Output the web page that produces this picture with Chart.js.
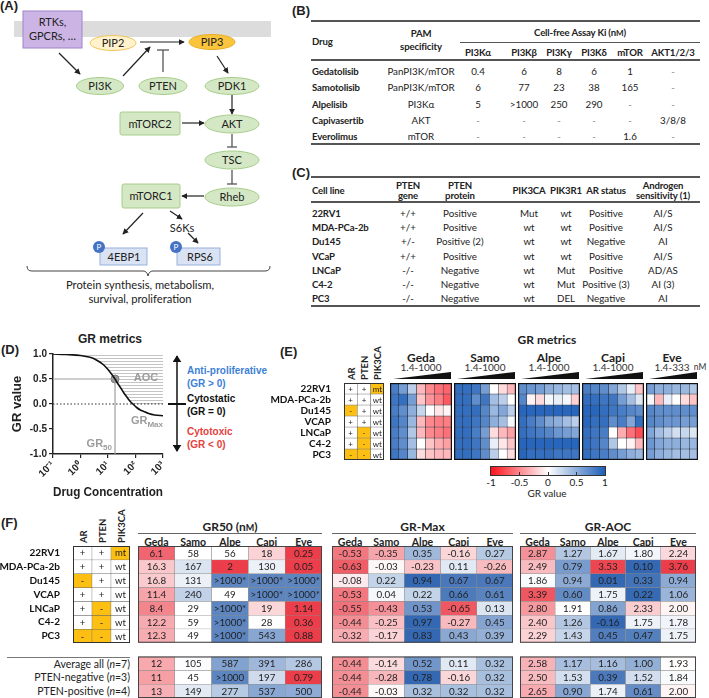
<!DOCTYPE html>
<html>
<head>
<meta charset="utf-8">
<title>PI3K/AKT/mTOR inhibitors in prostate cancer cell lines</title>
<script src="https://cdn.jsdelivr.net/npm/chart.js@4.4.1/dist/chart.umd.min.js"></script>
<style>
  body { margin: 0; background: #fff; }
  #fig { position: relative; width: 709px; height: 698px; overflow: hidden; font-family: Lato, "Liberation Sans", sans-serif; color: #222; }
  #fig canvas { position: absolute; }
  .t { position: absolute; white-space: nowrap; line-height: 1; }
  .hl { position: absolute; }
  #deco { position: absolute; left: 0; top: 0; }
</style>
</head>
<body>
<div id="fig">
<svg id="deco" width="709" height="698" font-family="Lato, sans-serif" font-size="11" fill="#222">
  <defs>
    <marker id="ah" viewBox="0 0 8 8" refX="7" refY="4" markerWidth="6" markerHeight="6" markerUnits="userSpaceOnUse" orient="auto"><path d="M0,0 L8,4 L0,8 z" fill="#222"/></marker>
    <marker id="ah2" viewBox="0 0 8 10" refX="7" refY="5" markerWidth="7" markerHeight="9" markerUnits="userSpaceOnUse" orient="auto-start-reverse"><path d="M0,0 L8,5 L0,10 z" fill="#111"/></marker>
  </defs>
  <!-- (A) pathway -->
  <rect x="14" y="21" width="257" height="16" fill="#dcdcdc"/>
  <rect x="23" y="11" width="59" height="37" fill="#ccb5e5" stroke="#a083c8"/>
  <text x="52.5" y="26" text-anchor="middle">RTKs,</text>
  <text x="52.5" y="40" text-anchor="middle">GPCRs, …</text>
  <ellipse cx="113" cy="43" rx="23" ry="7.5" fill="#fff2cc" stroke="#efc65a"/>
  <text x="113" y="47" text-anchor="middle">PIP2</text>
  <ellipse cx="212" cy="42" rx="23" ry="7.5" fill="#fbc43d" stroke="#e8ae25"/>
  <text x="212" y="46" text-anchor="middle">PIP3</text>
  <g stroke="#222" stroke-width="1.2" fill="none">
    <line x1="140" y1="42" x2="184" y2="42" marker-end="url(#ah)"/>
    <line x1="59" y1="53" x2="80" y2="74" marker-end="url(#ah)"/>
    <line x1="123" y1="76" x2="150" y2="47" marker-end="url(#ah)"/>
    <line x1="217" y1="56" x2="228" y2="73" marker-end="url(#ah)"/>
    <line x1="232" y1="95" x2="232" y2="114" marker-end="url(#ah)"/>
    <line x1="182" y1="123" x2="204" y2="123" marker-end="url(#ah)"/>
    <line x1="204" y1="196" x2="182" y2="196" marker-end="url(#ah)"/>
    <line x1="143" y1="213" x2="123" y2="234" marker-end="url(#ah)"/>
    <line x1="170" y1="211" x2="182" y2="219" marker-end="url(#ah)"/>
    <line x1="188" y1="233" x2="198" y2="243" marker-end="url(#ah)"/>
  </g>
  <g stroke="#555" stroke-width="1.3">
    <line x1="163" y1="72" x2="163" y2="50"/><line x1="157" y1="50" x2="169" y2="50"/>
    <line x1="232" y1="134" x2="232" y2="147"/><line x1="227" y1="147" x2="237" y2="147"/>
    <line x1="232" y1="170" x2="232" y2="184"/><line x1="227" y1="184" x2="237" y2="184"/>
  </g>
  <g fill="#d5e8c5" stroke="#a6cd8a">
    <ellipse cx="100" cy="86" rx="23.5" ry="8.5"/>
    <ellipse cx="163" cy="86" rx="24" ry="8.5"/>
    <ellipse cx="232" cy="86" rx="27" ry="8.5"/>
    <ellipse cx="232" cy="124" rx="27" ry="9"/>
    <ellipse cx="232" cy="160" rx="27" ry="9"/>
    <ellipse cx="232" cy="197" rx="27" ry="9"/>
    <rect x="120" y="112" width="60" height="23" rx="2"/>
    <rect x="122" y="184" width="58" height="24" rx="2"/>
  </g>
  <g text-anchor="middle">
    <text x="100" y="90">PI3K</text><text x="163" y="90">PTEN</text><text x="232" y="90">PDK1</text>
    <text x="150" y="127.5">mTORC2</text><text x="232" y="128">AKT</text><text x="232" y="164">TSC</text>
    <text x="151" y="200">mTORC1</text><text x="232" y="201">Rheb</text>
    <text x="182" y="232">S6Ks</text>
  </g>
  <rect x="100" y="248" width="47" height="17" fill="#dae3f3" stroke="#98b0dc"/>
  <rect x="177" y="248" width="43" height="17" fill="#dae3f3" stroke="#98b0dc"/>
  <text x="124" y="260.5" text-anchor="middle">4EBP1</text>
  <text x="200" y="260.5" text-anchor="middle">RPS6</text>
  <circle cx="99" cy="247" r="6" fill="#4472c4"/><text x="99" y="250" text-anchor="middle" font-size="8" fill="#fff">P</text>
  <circle cx="176" cy="247" r="6" fill="#4472c4"/><text x="176" y="250" text-anchor="middle" font-size="8" fill="#fff">P</text>
  <path d="M27,266 Q27,271 32,271 L143,271 Q147,271 148,276 Q149,271 153,271 L265,271 Q270,271 270,266" fill="none" stroke="#444" stroke-width="1"/>
  <text x="140" y="289" text-anchor="middle" font-size="11.2">Protein synthesis, metabolism,</text>
  <text x="140" y="303" text-anchor="middle" font-size="11.2">survival, proliferation</text>
  <!-- (D) right-hand scale -->
  <line x1="177" y1="356" x2="177" y2="451" stroke="#111" stroke-width="1.5" marker-start="url(#ah2)" marker-end="url(#ah2)"/>
  <line x1="168" y1="404" x2="186" y2="404" stroke="#111" stroke-width="2"/>
  <!-- (E) dose wedges -->
  <g fill="#111">
    <polygon points="393,379 451,379 451,372"/>
    <polygon points="457,379 515,379 515,372"/>
    <polygon points="521,379 579,379 579,372"/>
    <polygon points="585,379 643,379 643,372"/>
    <polygon points="649,379 697,379 697,372"/>
  </g>
</svg>
</div>
<script>
// ---------- (B) drug table ----------
const drugNames = ["Gedatolisib", "Samotolisib", "Alpelisib", "Capivasertib", "Everolimus"];
const pamSpec = ["PanPI3K/mTOR", "PanPI3K/mTOR", "PI3Kα", "AKT", "mTOR"];
const kiTargets = ["PI3Kα", "PI3Kβ", "PI3Kγ", "PI3Kδ", "mTOR", "AKT1/2/3"];
const kiValues = [
  ["0.4", "6", "8", "6", "1", "-"],
  ["6", "77", "23", "38", "165", "-"],
  ["5", ">1000", "250", "290", "-", "-"],
  ["-", "-", "-", "-", "-", "3/8/8"],
  ["-", "-", "-", "-", "1.6", "-"]
];

// ---------- (C) cell line table ----------
const tableCLines = ["22RV1", "MDA-PCa-2b", "Du145", "VCaP", "LNCaP", "C4-2", "PC3"];
const ptenGene = ["+/+", "+/+", "+/-", "+/+", "-/-", "-/-", "-/-"];
const ptenProtein = ["Positive", "Positive", "Positive (2)", "Positive", "Negative", "Negative", "Negative"];
const pik3caMut = ["Mut", "wt", "wt", "wt", "wt", "wt", "wt"];
const pik3r1Mut = ["wt", "wt", "wt", "wt", "Mut", "Mut", "DEL"];
const arText = ["Positive", "Positive", "Negative", "Positive", "Positive", "Positive (3)", "Negative"];
const androgenSens = ["AI/S", "AI/S", "AI", "AI/S", "AD/AS", "AI (3)", "AI"];

// ---------- (D) sketch of a GR curve ----------
const concNM = [0.1, 0.3, 1, 2, 3, 5, 7, 10, 13, 18, 22, 30, 40, 50, 65, 80, 110, 150, 200, 300, 500, 1000];
const grCurve = [1.00, 0.99, 0.97, 0.94, 0.91, 0.84, 0.78, 0.69, 0.61, 0.50, 0.42, 0.31, 0.20, 0.13, 0.05, 0.00, -0.07, -0.12, -0.15, -0.19, -0.22, -0.235];
const gr50Point = { x: 18, y: 0.5 };
const xTickVals = [0.1, 1, 10, 100, 1000];
const xTickLabels = ["10⁻¹", "10⁰", "10¹", "10²", "10³"];

// ---------- (E) / (F) cell lines and genotypes ----------
const cellLines = ["22RV1", "MDA-PCa-2b", "Du145", "VCAP", "LNCaP", "C4-2", "PC3"];
const arStatus = ["+", "+", "-", "+", "+", "+", "-"];
const ptenStatus = ["+", "+", "+", "+", "-", "-", "-"];
const pik3caStatus = ["mt", "wt", "wt", "wt", "wt", "wt", "wt"];
const drugShort = ["Geda", "Samo", "Alpe", "Capi", "Eve"];
const drugRange = ["1.4-1000", "1.4-1000", "1.4-1000", "1.4-1000", "1.4-333"];

// (E) GR value per dose (low -> high), one row per cell line
const gedaGR = [
  [0.80, 0.60, 0.30, -0.30, -0.50, -0.60, -0.65],
  [0.85, 0.90, 0.60, -0.25, -0.45, -0.55, -0.70],
  [0.80, 0.70, 0.50, 0.25, 0.00, -0.10, -0.05],
  [0.85, 0.75, 0.45, -0.30, -0.50, -0.55, -0.55],
  [0.80, 0.70, 0.35, -0.30, -0.50, -0.55, -0.60],
  [0.80, 0.70, 0.40, 0.00, -0.25, -0.35, -0.40],
  [0.85, 0.75, 0.45, -0.15, -0.25, -0.30, -0.30]
];
const samoGR = [
  [0.90, 0.90, 0.85, 0.60, 0.00, -0.15, -0.30],
  [0.90, 0.90, 0.70, 0.85, 0.40, 0.30, 0.00],
  [0.90, 0.90, 0.90, 0.75, 0.45, 0.55, 0.30],
  [0.90, 0.90, 0.85, 0.75, 0.50, 0.40, 0.05],
  [0.90, 0.90, 0.80, 0.60, -0.15, -0.30, -0.40],
  [0.90, 0.90, 0.85, 0.70, 0.10, -0.10, -0.25],
  [0.90, 0.90, 0.85, 0.70, 0.30, 0.00, -0.15]
];
const alpeGR = [
  [0.70, 0.65, 0.60, 0.50, 0.45, 0.40, 0.40],
  [0.75, -0.05, -0.15, 0.05, 0.10, 0.05, -0.20],
  [0.95, 0.95, 0.95, 0.95, 0.95, 0.95, 0.95],
  [0.90, 0.80, 0.70, 0.55, 0.50, 0.40, 0.30],
  [0.90, 0.85, 0.80, 0.75, 0.65, 0.60, 0.55],
  [0.95, 0.95, 0.95, 0.95, 0.95, 0.95, 0.95],
  [0.95, 0.90, 0.90, 0.90, 0.85, 0.85, 0.85]
];
const capiGR = [
  [0.80, 0.75, 0.70, 0.55, 0.35, 0.10, -0.25],
  [0.90, 0.90, 0.85, 0.85, 0.60, 0.40, 0.15],
  [0.95, 0.95, 0.90, 0.85, 0.80, 0.75, 0.70],
  [0.95, 0.90, 0.90, 0.70, 0.80, 0.55, 0.90],
  [0.90, 0.85, 0.80, 0.00, -0.35, -0.60, -0.75],
  [0.90, 0.85, 0.75, 0.35, 0.00, -0.05, -0.30],
  [0.90, 0.85, 0.80, 0.70, 0.60, 0.50, 0.45]
];
const eveGR = [
  [0.60, 0.50, 0.50, 0.45, 0.45, 0.35],
  [0.05, -0.30, 0.10, 0.00, -0.15, -0.25],
  [0.75, 0.70, 0.70, 0.70, 0.70, 0.70],
  [0.75, 0.70, 0.65, 0.65, 0.60, 0.60],
  [0.55, 0.40, 0.30, 0.20, 0.25, 0.15],
  [0.65, 0.55, 0.50, 0.50, 0.45, 0.45],
  [0.60, 0.50, 0.45, 0.40, 0.40, 0.40]
];

// (F) GR metrics table
const summaryLabels = ["Average all (<i>n</i>=7)", "PTEN-negative (<i>n</i>=3)", "PTEN-positive (<i>n</i>=4)"];
const gr50Rows = [
  ["6.1", "58", "56", "18", "0.25"],
  ["16.3", "167", "2", "130", "0.05"],
  ["16.8", "131", ">1000*", ">1000*", ">1000*"],
  ["11.4", "240", "49", ">1000*", ">1000*"],
  ["8.4", "29", ">1000*", "19", "1.14"],
  ["12.2", "59", ">1000*", "28", "0.36"],
  ["12.3", "49", ">1000*", "543", "0.88"]
];
const gr50Summary = [
  ["12", "105", "587", "391", "286"],
  ["11", "45", ">1000", "197", "0.79"],
  ["13", "149", "277", "537", "500"]
];
const grMaxRows = [
  [-0.53, -0.35, 0.35, -0.16, 0.27],
  [-0.63, -0.03, -0.23, 0.11, -0.26],
  [-0.08, 0.22, 0.94, 0.67, 0.67],
  [-0.53, 0.04, 0.22, 0.66, 0.61],
  [-0.55, -0.43, 0.53, -0.65, 0.13],
  [-0.44, -0.25, 0.97, -0.27, 0.45],
  [-0.32, -0.17, 0.83, 0.43, 0.39]
];
const grMaxSummary = [
  [-0.44, -0.14, 0.52, 0.11, 0.32],
  [-0.44, -0.28, 0.78, -0.16, 0.32],
  [-0.44, -0.03, 0.32, 0.32, 0.32]
];
const grAocRows = [
  [2.87, 1.27, 1.67, 1.80, 2.24],
  [2.49, 0.79, 3.53, 0.10, 3.76],
  [1.86, 0.94, 0.01, 0.33, 0.94],
  [3.39, 0.60, 1.75, 0.22, 1.06],
  [2.80, 1.91, 0.86, 2.33, 2.00],
  [2.40, 1.26, -0.16, 1.75, 1.78],
  [2.29, 1.43, 0.45, 0.47, 1.75]
];
const grAocSummary = [
  [2.58, 1.17, 1.16, 1.00, 1.93],
  [2.50, 1.53, 0.39, 1.52, 1.84],
  [2.65, 0.90, 1.74, 0.61, 2.00]
];

// ---------- helpers ----------
const fig = document.getElementById('fig');
const LAB = 'font:bold 13px "Liberation Sans",Arial,sans-serif;';
const BOLD = 'font:bold 9.6px Lato;letter-spacing:-0.15px;';
const REG = 'font:9.8px Lato;';

function put(x, y, html, css, align) {
  const d = document.createElement('div');
  d.className = 't';
  d.innerHTML = html;
  const tx = align === 'l' ? '0' : align === 'r' ? '-100%' : '-50%';
  d.style.cssText = `left:${x}px;top:${y}px;transform:translate(${tx},-50%);` + (css || '');
  fig.appendChild(d);
  return d;
}
function hline(x1, x2, y, w, c) {
  const d = document.createElement('div');
  d.className = 'hl';
  d.style.cssText = `left:${x1}px;top:${y - w / 2}px;width:${x2 - x1}px;height:${w}px;background:${c || '#555'}`;
  fig.appendChild(d);
}
function vtext(x, yb, txt, css) {
  const d = document.createElement('div');
  d.className = 't';
  d.textContent = txt;
  d.style.cssText = `left:${x}px;top:${yb}px;transform-origin:0 0;transform:rotate(-90deg) translate(0,-50%);` + (css || '');
  fig.appendChild(d);
}
function canvasAt(x, y, w, h) {
  const cv = document.createElement('canvas');
  cv.width = w; cv.height = h;
  cv.style.left = x + 'px'; cv.style.top = y + 'px';
  fig.appendChild(cv);
  return cv;
}
function mix(c, t) {
  return `rgb(${c.map(v => Math.round(255 + (v - 255) * t)).join(',')})`;
}

// ---------- panel labels ----------
put(0, 5, '(A)', LAB, 'l');
put(292, 10, '(B)', LAB, 'l');
put(292, 172, '(C)', LAB, 'l');
put(1, 349, '(D)', LAB, 'l');
put(280, 351, '(E)', LAB, 'l');
put(1, 522, '(F)', LAB, 'l');

// ---------- (B) ----------
const kiX = [478, 524, 559, 594, 630, 673];
hline(311, 700, 21, 1.5);
put(312, 41, 'Drug', BOLD, 'l');
put(421, 33, 'PAM', BOLD);
put(421, 46, 'specificity', BOLD);
put(580, 32, 'Cell-free Assay Ki (n<span style="font-size:8px">M</span>)', BOLD);
hline(460, 700, 42, 1);
kiTargets.forEach((k, j) => put(kiX[j], 52, k, BOLD));
hline(311, 700, 60, 1.2);
drugNames.forEach((d, i) => {
  const y = 71 + i * 16.3;
  put(312, y, d, BOLD, 'l');
  put(421, y, pamSpec[i], REG);
  kiValues[i].forEach((v, j) => put(kiX[j], y, v, REG + (v === '-' ? 'color:#888;' : '')));
});
hline(311, 700, 144, 1.5);

// ---------- (C) ----------
hline(311, 700, 177, 1.5);
put(312, 190, 'Cell line', BOLD, 'l');
put(408, 185, 'PTEN', BOLD); put(408, 195, 'gene', BOLD);
put(460, 185, 'PTEN', BOLD); put(460, 195, 'protein', BOLD);
put(529, 190, 'PIK3CA', BOLD);
put(566, 190, 'PIK3R1', BOLD);
put(606, 190, 'AR status', BOLD);
put(663, 185, 'Androgen', BOLD); put(663, 195, 'sensitivity (1)', BOLD);
hline(311, 700, 202, 1.2);
tableCLines.forEach((c, i) => {
  const y = 213 + i * 14.2;
  put(312, y, c, BOLD, 'l');
  put(408, y, ptenGene[i], REG);
  put(460, y, ptenProtein[i], REG);
  put(529, y, pik3caMut[i], REG);
  put(566, y, pik3r1Mut[i], REG);
  put(606, y, arText[i], REG);
  put(663, y, androgenSens[i], REG);
});
hline(311, 700, 306, 1.5);

// ---------- (D) GR metrics sketch ----------
put(110, 339, 'GR metrics', 'font:bold 12px "Liberation Sans";');
const cvD = canvasAt(0, 340, 175, 160);
const hatch = (() => {
  const tile = document.createElement('canvas');
  tile.width = 4; tile.height = 3;
  const tc = tile.getContext('2d');
  tc.fillStyle = '#c4c4c4';
  tc.fillRect(0, 0, 4, 1);
  return cvD.getContext('2d').createPattern(tile, 'repeat');
})();
function subText(ctx, main, sub, x, y) {
  ctx.font = 'bold 11px "Liberation Sans"';
  const w1 = ctx.measureText(main).width;
  ctx.font = 'bold 8px "Liberation Sans"';
  const w2 = ctx.measureText(sub).width;
  ctx.textAlign = 'left';
  ctx.font = 'bold 11px "Liberation Sans"';
  ctx.fillText(main, x - w1 - w2, y);
  ctx.font = 'bold 8px "Liberation Sans"';
  ctx.fillText(sub, x - w2, y + 4);
}
const dLabels = {
  id: 'dLabels',
  afterDatasetsDraw(chart) {
    const { ctx, scales: { x, y } } = chart;
    ctx.save();
    ctx.fillStyle = '#9c9c9c';
    ctx.textBaseline = 'middle';
    ctx.font = 'bold 11px "Liberation Sans"';
    ctx.textAlign = 'center';
    ctx.fillText('AOC', x.getPixelForValue(240), y.getPixelForValue(0.52));
    subText(ctx, 'GR', 'Max', x.getPixelForValue(1000), y.getPixelForValue(-0.33));
    subText(ctx, 'GR', '50', x.getPixelForValue(gr50Point.x) - 3, y.getPixelForValue(-0.8));
    ctx.restore();
  }
};
const axisFont = { family: 'Liberation Sans', size: 10, weight: 'bold' };
new Chart(cvD, {
  type: 'line',
  data: {
    datasets: [
      { data: concNM.map((c, i) => ({ x: c, y: Math.max(grCurve[i], 0) })), fill: { value: 1 }, backgroundColor: hatch, borderWidth: 0, pointRadius: 0, cubicInterpolationMode: 'monotone' },
      { data: concNM.map((c, i) => ({ x: c, y: grCurve[i] })), borderColor: '#111', borderWidth: 1.6, pointRadius: 0, fill: false, cubicInterpolationMode: 'monotone' },
      { data: [{ x: 0.1, y: 0 }, { x: 1000, y: 0 }], borderColor: '#333', borderWidth: 1, borderDash: [1.5, 2], pointRadius: 0, fill: false },
      { data: [{ x: 0.1, y: gr50Point.y }, gr50Point, { x: gr50Point.x, y: -1 }], borderColor: '#a0a0a0', borderWidth: 1.2, pointRadius: 0, tension: 0, fill: false },
      { data: [gr50Point], showLine: false, pointRadius: 4, pointBackgroundColor: '#9b9b9b', pointBorderColor: '#7a7a7a', pointBorderWidth: 1 }
    ]
  },
  options: {
    responsive: false, animation: false, events: [],
    layout: { padding: { left: 10, top: 14, right: 12, bottom: 0 } },
    plugins: { legend: { display: false }, tooltip: { enabled: false }, filler: { drawTime: 'beforeDatasetsDraw' } },
    scales: {
      x: {
        type: 'logarithmic', min: 0.1, max: 1000,
        afterBuildTicks: s => { s.ticks = xTickVals.map(v => ({ value: v })); },
        afterFit: s => { s.height = 46; },
        ticks: { callback: (v, i) => xTickLabels[i], minRotation: 45, maxRotation: 45, font: axisFont, color: '#222', padding: 1 },
        grid: { drawOnChartArea: false, tickLength: 4, color: '#222', lineWidth: 1.2 },
        border: { color: '#222', width: 1.5 },
        title: { display: true, text: 'Drug Concentration', color: '#222', font: { family: 'Liberation Sans', size: 13, weight: 'bold' }, padding: 0 }
      },
      y: {
        min: -1, max: 1,
        afterFit: s => { s.width = 43; },
        ticks: { stepSize: 0.5, callback: v => v.toFixed(1), font: axisFont, color: '#222', padding: 2 },
        grid: { drawOnChartArea: false, tickLength: 4, color: '#222', lineWidth: 1.2 },
        border: { color: '#222', width: 1.5 },
        title: { display: true, text: 'GR value', color: '#222', font: { family: 'Liberation Sans', size: 13, weight: 'bold' }, padding: 0 }
      }
    }
  },
  plugins: [dLabels]
});
const DTXT = 'font:bold 10px "Liberation Sans";';
put(187, 370, 'Anti-proliferative', DTXT + 'color:#3c7fd6;', 'l');
put(187, 383, '(GR &gt; 0)', DTXT + 'color:#3c7fd6;', 'l');
put(187, 398, 'Cytostatic', DTXT + 'color:#111;', 'l');
put(187, 411, '(GR = 0)', DTXT + 'color:#111;', 'l');
put(187, 431, 'Cytotoxic', DTXT + 'color:#e5423e;', 'l');
put(187, 444, '(GR &lt; 0)', DTXT + 'color:#e5423e;', 'l');

// ---------- grid (heatmap / table) charts ----------
const cellText = (font) => ({
  id: 'cellText',
  afterDatasetsDraw(chart) {
    const ctx = chart.ctx;
    ctx.save();
    ctx.font = font; ctx.fillStyle = '#222';
    ctx.textAlign = 'center'; ctx.textBaseline = 'middle';
    chart.data.datasets.forEach((ds, i) => {
      if (!ds.texts) return;
      chart.getDatasetMeta(i).data.forEach((bar, j) => {
        const p = bar.getCenterPoint();
        ctx.fillText(ds.texts[j], p.x, p.y + 0.5);
      });
    });
    ctx.restore();
  }
});
const frames = (spans, color, width) => ({
  id: 'frames',
  afterDatasetsDraw(chart) {
    const { ctx, chartArea: a, scales: { y } } = chart;
    ctx.save();
    ctx.strokeStyle = color; ctx.lineWidth = width;
    spans.forEach(([r0, r1]) => {
      const y0 = y.getPixelForValue(r0), y1 = y.getPixelForValue(r1);
      ctx.strokeRect(a.left + width / 2, y0 + width / 2, a.right - a.left - width, y1 - y0 - width);
    });
    ctx.restore();
  }
});
function gridChart(x, y, w, h, rows, o) {
  const cv = canvasAt(x, y, w, h);
  const nCols = rows.find(r => r).length;
  const datasets = rows.map(r => r ? {
    data: r.map(() => 1),
    backgroundColor: r.map(o.color),
    borderColor: o.line || '#777',
    borderWidth: o.lineW || 0.5,
    borderSkipped: false,
    texts: o.text ? r.map(o.text) : null
  } : { data: Array(nCols).fill(1), backgroundColor: 'rgba(0,0,0,0)', borderWidth: 0, texts: null });
  const yScale = { stacked: true, min: 0, max: rows.length, reverse: true, display: false };
  if (o.yLabels) Object.assign(yScale, {
    display: true,
    afterBuildTicks: s => { s.ticks = o.yLabels.map((_, i) => ({ value: i + 0.5 })); },
    afterFit: s => { s.width = o.yWidth; s.paddingTop = 0; s.paddingBottom = 0; },
    grid: { display: false }, border: { display: false },
    ticks: { callback: (v, i) => o.yLabels[i], color: '#111', font: o.yFont, padding: 5, autoSkip: false }
  });
  return new Chart(cv, {
    type: 'bar',
    data: { labels: Array.from({ length: nCols }, (_, i) => 'c' + i), datasets },
    options: {
      responsive: false, animation: false, events: [],
      layout: { padding: 0 },
      datasets: { bar: { barPercentage: 1, categoryPercentage: 1 } },
      plugins: { legend: { display: false }, tooltip: { enabled: false } },
      scales: { x: { stacked: true, display: false }, y: yScale }
    },
    plugins: [cellText(o.font || '10px Lato'), frames(o.frames || [[0, rows.length]], o.frameColor || '#333', o.frameW || 1)]
  });
}

const annotRows = cellLines.map((_, i) => [arStatus[i], ptenStatus[i], pik3caStatus[i]]);
const annotColor = v => (v === '-' || v === 'mt') ? '#fcbf12' : '#ffffff';

// ---------- (E) heatmap ----------
put(547, 339, 'GR metrics', 'font:bold 12px Lato;');
const RED_E = [250, 18, 28], BLUE_E = [28, 94, 184];
const grColor = v => v < 0 ? mix(RED_E, Math.min(1, -v)) : mix(BLUE_E, Math.min(1, v));
const drugGR = [gedaGR, samoGR, alpeGR, capiGR, eveGR];
const blockX = [390, 454, 518, 582, 646];
const blockW = [62, 62, 62, 62, 52];
drugGR.forEach((m, i) => {
  gridChart(blockX[i], 383, blockW[i], 77, m, { color: grColor, line: '#1c2836', lineW: 0.5, frameColor: '#111', frameW: 1.2 });
  const cx = blockX[i] + blockW[i] / 2;
  put(cx, 357, drugShort[i], 'font:bold 12px Lato;');
  put(cx, 367, drugRange[i], 'font:10px Lato;color:#333;');
});
put(700, 367, 'nM', 'font:8.5px Lato;color:#333;', 'c');
gridChart(270, 383, 114, 77, annotRows, {
  color: annotColor, text: v => v, font: '8px Lato', line: '#666', frameColor: '#333',
  yLabels: cellLines, yWidth: 74, yFont: { family: 'Lato', size: 10, weight: 'bold' }
});
vtext(351, 380, 'AR', 'font:bold 9.5px Lato;');
vtext(364, 380, 'PTEN', 'font:bold 9.5px Lato;');
vtext(377, 380, 'PIK3CA', 'font:bold 9.5px Lato;');
// colour bar
const bar = document.createElement('div');
bar.style.cssText = 'position:absolute;left:490px;top:466px;width:114px;height:8px;border:1px solid #333;background:linear-gradient(to right,#fa121c,#ffffff 50%,#1c5eb8);';
fig.appendChild(bar);
[-1, -0.5, 0, 0.5, 1].forEach(v => {
  const x = 491 + (v + 1) / 2 * 114;
  put(x, 482, String(v), 'font:10px Lato;');
  if (Math.abs(v) < 1) {
    const tk = document.createElement('div');
    tk.style.cssText = `position:absolute;left:${x - 0.5}px;top:472px;width:1px;height:3px;background:#333;`;
    fig.appendChild(tk);
  }
});
put(547, 493, 'GR value', 'font:10px Lato;');

// ---------- (F) GR metrics table ----------
const RED_F = [236, 62, 74], BLUE_F = [52, 104, 178];
const divColor = t => t < 0 ? mix(RED_F, Math.min(1, -t)) : mix(BLUE_F, Math.min(1, t));
function gr50Color(s) {
  const lg = Math.log10(parseFloat(s.replace(/[>*]/g, '')));
  if (lg < 1.45) return divColor(-Math.min(1, (1.45 - lg) * 1.2));
  if (lg > 2) return divColor(Math.min(0.8, (lg - 2) * 0.8));
  return '#ffffff';
}
const grMaxColor = v => divColor(v / 0.75);
const grAocColor = v => divColor((1.9 - v) / 1.7);

gridChart(0, 546, 130, 97, annotRows, {
  color: annotColor, text: v => v, font: '9.5px Lato', line: '#666', frameColor: '#333',
  yLabels: cellLines, yWidth: 73, yFont: { family: 'Lato', size: 10, weight: 'bold' }
});
vtext(83, 543, 'AR', 'font:bold 9.5px Lato;');
vtext(102, 543, 'PTEN', 'font:bold 9.5px Lato;');
vtext(121, 543, 'PIK3CA', 'font:bold 9.5px Lato;');
hline(7, 130, 657.5, 1, '#777');
summaryLabels.forEach((s, i) => put(130, 663.5 + i * 13.8, s, 'font:10.5px Lato;', 'r'));

const fTables = [
  { x: 138, w: 184, title: 'GR50 (n<span style="font-size:9px">M</span>)', rows: gr50Rows, sum: gr50Summary, color: gr50Color, text: v => v },
  { x: 332, w: 181, title: 'GR-Max', rows: grMaxRows, sum: grMaxSummary, color: grMaxColor, text: v => v.toFixed(2) },
  { x: 520, w: 176, title: 'GR-AOC', rows: grAocRows, sum: grAocSummary, color: grAocColor, text: v => v.toFixed(2) }
];
fTables.forEach(tb => {
  put(tb.x + tb.w / 2, 526, tb.title, 'font:bold 12px Lato;');
  hline(tb.x, tb.x + tb.w, 533.5, 1, '#666');
  drugShort.forEach((d, j) => put(tb.x + (j + 0.5) * tb.w / 5, 541.5, d, 'font:bold 10.5px Lato;'));
  gridChart(tb.x, 546, tb.w, 152, [...tb.rows, null, ...tb.sum], {
    color: tb.color, text: tb.text, font: '9.8px Lato', line: '#8c8c8c', lineW: 0.5,
    frames: [[0, 7], [8, 11]], frameColor: '#444', frameW: 1
  });
});
</script>
</body>
</html>
